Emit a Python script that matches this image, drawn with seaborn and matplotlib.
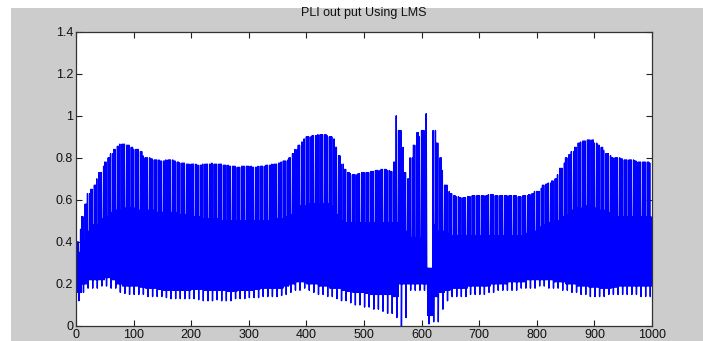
import numpy as np
import pandas as pd
import matplotlib
matplotlib.use("Agg")
import matplotlib.pyplot as plt
import seaborn as sns

# ---- data (envelopes of the LMS output) ----
title = "PLI out put Using LMS"
# upper spike envelope, one value per 5 samples (0..995)
upper_5 = [
    0.40, 0.46, 0.52, 0.58, 0.63, 0.65, 0.67, 0.70, 0.73, 0.76,
    0.78, 0.80, 0.82, 0.84, 0.855, 0.865, 0.865, 0.86, 0.86, 0.85,
    0.84, 0.84, 0.83, 0.81, 0.80, 0.80, 0.795, 0.79, 0.79, 0.785,
    0.785, 0.79, 0.79, 0.79, 0.785, 0.78, 0.775, 0.775, 0.77, 0.77,
    0.77, 0.77, 0.765, 0.765, 0.77, 0.77, 0.77, 0.775, 0.77, 0.77,
    0.77, 0.765, 0.765, 0.76, 0.76, 0.76, 0.755, 0.76, 0.76, 0.76,
    0.76, 0.755, 0.755, 0.76, 0.76, 0.76, 0.765, 0.765, 0.77, 0.77,
    0.775, 0.78, 0.785, 0.79, 0.80, 0.82, 0.84, 0.86, 0.875, 0.89,
    0.90, 0.90, 0.905, 0.905, 0.91, 0.91, 0.91, 0.905, 0.90, 0.89,
    0.85, 0.81, 0.77, 0.745, 0.73, 0.725, 0.72, 0.72, 0.725, 0.73,
    0.73, 0.73, 0.735, 0.735, 0.74, 0.74, 0.745, 0.745, 0.74, 0.735,
    0.78, 1.00, 0.93, 0.85, 0.73, 0.70, 0.80, 0.86, 0.92, 0.90,
    0.93, 1.01, 0.275, 0.275, 0.93, 0.87, 0.80, 0.74, 0.67, 0.64,
    0.63, 0.62, 0.615, 0.61, 0.61, 0.61, 0.615, 0.62, 0.62, 0.62,
    0.62, 0.62, 0.62, 0.625, 0.625, 0.62, 0.62, 0.62, 0.62, 0.62,
    0.62, 0.62, 0.62, 0.615, 0.615, 0.62, 0.62, 0.625, 0.63, 0.64,
    0.64, 0.655, 0.67, 0.675, 0.68, 0.69, 0.70, 0.72, 0.75, 0.775,
    0.80, 0.815, 0.83, 0.85, 0.87, 0.875, 0.88, 0.885, 0.885, 0.885,
    0.87, 0.86, 0.85, 0.835, 0.82, 0.81, 0.80, 0.80, 0.80, 0.795,
    0.79, 0.79, 0.79, 0.79, 0.785, 0.78, 0.78, 0.78, 0.78, 0.775,
]
# level reached by the dips between upper spikes, one value per 10 samples
dip_10 = [
    0.35, 0.40, 0.45, 0.48, 0.51, 0.52, 0.54, 0.55, 0.56, 0.56,
    0.56, 0.55, 0.55, 0.55, 0.54, 0.54, 0.54, 0.54, 0.53, 0.53,
    0.52, 0.52, 0.51, 0.51, 0.51, 0.50, 0.50, 0.50, 0.50, 0.50,
    0.50, 0.50, 0.50, 0.50, 0.50, 0.51, 0.52, 0.53, 0.55, 0.57,
    0.58, 0.58, 0.58, 0.58, 0.57, 0.53, 0.50, 0.49, 0.49, 0.49,
    0.49, 0.49, 0.49, 0.49, 0.49, 0.49, 0.40, 0.45, 0.42, 0.42,
    0.40, 0.275, 0.48, 0.45, 0.44, 0.43, 0.43, 0.43, 0.43, 0.43,
    0.43, 0.43, 0.43, 0.43, 0.43, 0.43, 0.43, 0.43, 0.44, 0.45,
    0.47, 0.48, 0.49, 0.50, 0.52, 0.53, 0.55, 0.56, 0.57, 0.57,
    0.56, 0.55, 0.54, 0.53, 0.52, 0.52, 0.52, 0.52, 0.52, 0.52,
]
# bottom of the solid band, one value per 10 samples
band_low_10 = [
    0.16, 0.20, 0.22, 0.22, 0.22, 0.23, 0.22, 0.20, 0.19, 0.19,
    0.19, 0.185, 0.18, 0.18, 0.175, 0.17, 0.17, 0.17, 0.17, 0.17,
    0.175, 0.175, 0.17, 0.17, 0.17, 0.17, 0.165, 0.165, 0.17, 0.17,
    0.17, 0.175, 0.18, 0.18, 0.18, 0.18, 0.19, 0.20, 0.21, 0.21,
    0.20, 0.20, 0.19, 0.19, 0.18, 0.18, 0.17, 0.165, 0.16, 0.16,
    0.155, 0.15, 0.15, 0.15, 0.15, 0.14, 0.20, 0.20, 0.20, 0.20,
    0.20, 0.05, 0.14, 0.16, 0.17, 0.18, 0.18, 0.18, 0.19, 0.19,
    0.19, 0.19, 0.20, 0.20, 0.20, 0.21, 0.21, 0.21, 0.22, 0.22,
    0.22, 0.22, 0.22, 0.21, 0.21, 0.20, 0.20, 0.19, 0.19, 0.185,
    0.185, 0.18, 0.18, 0.185, 0.19, 0.19, 0.19, 0.19, 0.19, 0.19,
]
# lower spike envelope, one value per 10 samples
trough_10 = [
    0.12, 0.16, 0.18, 0.18, 0.19, 0.19, 0.18, 0.16, 0.155, 0.15,
    0.15, 0.15, 0.14, 0.14, 0.14, 0.135, 0.13, 0.13, 0.13, 0.13,
    0.13, 0.125, 0.12, 0.12, 0.125, 0.12, 0.12, 0.13, 0.13, 0.13,
    0.135, 0.135, 0.14, 0.14, 0.14, 0.145, 0.15, 0.16, 0.17, 0.18,
    0.17, 0.16, 0.15, 0.14, 0.14, 0.13, 0.12, 0.11, 0.10, 0.10,
    0.09, 0.08, 0.08, 0.07, 0.06, 0.04, 0.0, 0.04, 0.17, 0.17,
    0.17, 0.01, 0.02, 0.08, 0.12, 0.14, 0.14, 0.14, 0.15, 0.15,
    0.15, 0.16, 0.16, 0.17, 0.17, 0.17, 0.17, 0.18, 0.18, 0.18,
    0.19, 0.19, 0.18, 0.18, 0.17, 0.17, 0.16, 0.15, 0.15, 0.14,
    0.14, 0.14, 0.15, 0.15, 0.15, 0.15, 0.15, 0.15, 0.14, 0.14,
]
# which envelope each sample of one 8-sample cycle sits on
cycle = ["up", "low", "up", "low", "up", "trough", "dip", "low"]
x_ticks = [0, 100, 200, 300, 400, 500, 600, 700, 800, 900, 1000]
y_ticks = [0, 0.2, 0.4, 0.6, 0.8, 1.0, 1.2, 1.4]
y_tick_labels = ["0", "0.2", "0.4", "0.6", "0.8", "1", "1.2", "1.4"]

# ---- assemble the sampled signal from the envelopes ----
n = 1000
levels = {
    "up": np.repeat(upper_5, 5)[:n],
    "dip": np.repeat(dip_10, 10)[:n],
    "low": np.repeat(band_low_10, 10)[:n],
    "trough": np.repeat(trough_10, 10)[:n],
}
sample = np.arange(n)
which = [cycle[i % len(cycle)] for i in sample]
value = np.array([levels[w][i] for i, w in zip(sample, which)])
df = pd.DataFrame({"sample": sample, "value": value})

# ---- drawing ----
sns.set_style("white")
plt.rcParams["font.family"] = ["Liberation Sans", "DejaVu Sans"]

fig = plt.figure(figsize=(7.03, 3.41), dpi=100, facecolor="white")
# grey MATLAB-style figure background (white strip at left and top)
bg = fig.add_axes([11 / 703, 0, 1 - 11 / 703, 1 - 8 / 341], zorder=-10)
bg.set_facecolor("#cccccc")
bg.set_xticks([])
bg.set_yticks([])
for s in bg.spines.values():
    s.set_visible(False)

ax = fig.add_axes([76 / 703, 15 / 341, 576 / 703, (326 - 31.7) / 341], zorder=1)
ax.set_facecolor("white")

sns.lineplot(data=df, x="sample", y="value", ax=ax, color="#0000ff",
             linewidth=1.0, estimator=None, sort=False, errorbar=None)

ax.set_xlim(0, 1000)
ax.set_ylim(0, 1.4)
ax.set_xticks(x_ticks)
ax.set_xticklabels([str(t) for t in x_ticks])
ax.set_yticks(y_ticks)
ax.set_yticklabels(y_tick_labels)
ax.set_xlabel("")
ax.set_ylabel("")
ax.tick_params(direction="in", length=4, width=0.8, color="#222222",
               labelsize=9, labelcolor="#111111", top=True, right=True,
               bottom=True, left=True, pad=2)
for s in ax.spines.values():
    s.set_visible(True)
    s.set_color("#333333")
    s.set_linewidth(0.9)
ax.set_title(title, fontsize=9, color="#111111", pad=11)

fig.savefig("out.png", dpi=100, facecolor="white")
